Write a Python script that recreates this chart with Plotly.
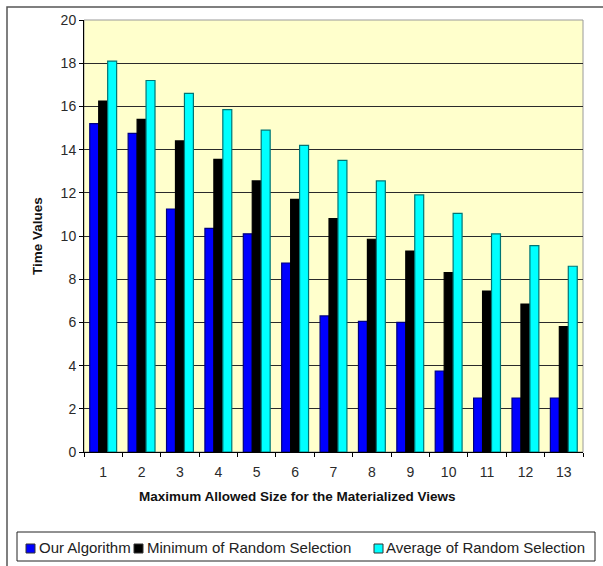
import plotly.graph_objects as go

# Maximum allowed size of the materialized views (category axis)
sizes = ["1", "2", "3", "4", "5", "6", "7", "8", "9", "10", "11", "12", "13"]

# Time values per selection strategy
our_algorithm = [15.2, 14.75, 11.25, 10.35, 10.1, 8.75, 6.3, 6.05, 6.0, 3.75, 2.5, 2.5, 2.5]
min_random = [16.25, 15.4, 14.4, 13.55, 12.55, 11.7, 10.8, 9.85, 9.3, 8.3, 7.45, 6.85, 5.8]
avg_random = [18.1, 17.2, 16.6, 15.85, 14.9, 14.2, 13.5, 12.55, 11.9, 11.05, 10.1, 9.55, 8.6]

series_names = ["Our Algorithm", "Minimum of Random Selection", "Average of Random Selection"]
series_values = [our_algorithm, min_random, avg_random]
fill_colors = ["#0000FF", "#000000", "#00FFFF"]
edge_colors = ["#000080", "#000000", "#007575"]

y_ticks = [0, 2, 4, 6, 8, 10, 12, 14, 16, 18, 20]

x_title = "Maximum Allowed Size for the Materialized Views"
y_title = "Time Values"

W, H = 603, 566
L, R, T, B = 84, 20, 20, 114

fig = go.Figure()
for name, vals, fc, ec in zip(series_names, series_values, fill_colors, edge_colors):
    fig.add_trace(go.Bar(
        x=sizes, y=vals, name=name,
        marker=dict(color=fc, line=dict(color=ec, width=1.2)),
        showlegend=False,
    ))

font_fam = "Liberation Sans, Arial, sans-serif"

fig.update_layout(
    width=W, height=H,
    margin=dict(l=L, r=R, t=T, b=B, pad=0),
    paper_bgcolor="white",
    plot_bgcolor="#FFFFCC",
    barmode="group",
    bargap=0.3,
    bargroupgap=0,
    font=dict(family=font_fam, color="#222222"),
)

fig.update_xaxes(
    type="category",
    range=[-0.5, 12.5],
    showline=True, linecolor="black", linewidth=1,
    ticks="outside", ticklen=4, tickcolor="black", tickson="boundaries",
    tickfont=dict(size=14, color="#2a2a2a"),
    ticklabelstandoff=7,
    showgrid=False,
)
fig.update_yaxes(
    range=[0, 20],
    tickvals=y_ticks,
    showline=True, linecolor="black", linewidth=1,
    ticks="outside", ticklen=4, tickcolor="black",
    tickfont=dict(size=14, color="#2a2a2a"),
    showgrid=True, gridcolor="#2a2a2a", gridwidth=1,
    zeroline=False,
)

pw, ph = W - L - R, H - T - B


def px_x(px):
    return (px - L) / pw


def px_y(py):
    return (H - B - py) / ph


shapes = []
annotations = []

# axis titles
annotations.append(dict(xref="paper", yref="paper", x=px_x(297), y=px_y(496),
                        xanchor="center", yanchor="middle", showarrow=False,
                        text="<b>" + x_title + "</b>",
                        font=dict(size=13.5, color="#111111", family=font_fam)))
annotations.append(dict(xref="paper", yref="paper", x=px_x(37), y=px_y(236),
                        xanchor="center", yanchor="middle", showarrow=False, textangle=-90,
                        text="<b>" + y_title + "</b>",
                        font=dict(size=13.5, color="#111111", family=font_fam)))

# outer chart frame (extends past the right and bottom of the page)
shapes.append(dict(type="rect", xref="paper", yref="paper",
                   x0=px_x(7), x1=px_x(640), y0=px_y(7), y1=px_y(620),
                   line=dict(color="#555555", width=1.5), fillcolor="rgba(0,0,0,0)", layer="below"))

# right/top edge of the back wall
shapes.append(dict(type="rect", xref="paper", yref="paper",
                   x0=0, x1=1, y0=0, y1=1,
                   line=dict(color="#9a9a9a", width=1), fillcolor="rgba(0,0,0,0)", layer="below"))

# legend box
shapes.append(dict(type="rect", xref="paper", yref="paper",
                   x0=px_x(17), x1=px_x(595), y0=px_y(532), y1=px_y(561),
                   line=dict(color="#222222", width=1), fillcolor="white"))

legend_sq = [26, 134, 374]
legend_tx = [37, 145, 384]
ly = 548.5
for name, fc, sx, tx in zip(series_names, fill_colors, legend_sq, legend_tx):
    shapes.append(dict(type="rect", xref="paper", yref="paper",
                       x0=px_x(sx), x1=px_x(sx + 9), y0=px_y(ly + 4.5), y1=px_y(ly - 4.5),
                       line=dict(color="#333333", width=1), fillcolor=fc))
    annotations.append(dict(xref="paper", yref="paper", x=px_x(tx), y=px_y(ly - 1),
                            xanchor="left", yanchor="middle", showarrow=False,
                            text=name, font=dict(size=15, color="#222222", family=font_fam)))

fig.update_layout(shapes=shapes, annotations=annotations)

fig.write_html("out.html")
